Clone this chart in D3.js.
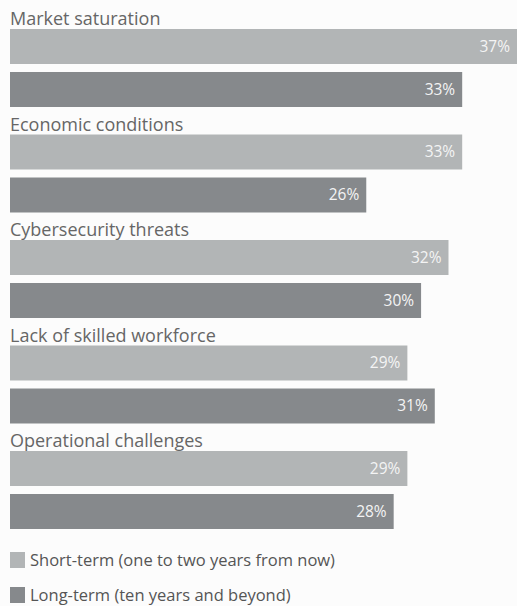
<!DOCTYPE html>
<html><head><meta charset="utf-8">
<script src="https://cdn.jsdelivr.net/npm/d3@7"></script>
<style>
html,body{margin:0;padding:0;background:#fcfcfc;}
svg{display:block;font-family:"Open Sans",sans-serif;}
</style></head>
<body>
<svg id="chart" width="517" height="606"></svg>
<script>
const categories = ["Market saturation","Economic conditions","Cybersecurity threats","Lack of skilled workforce","Operational challenges"];
const shortTerm = [37,33,32,29,29];
const longTerm = [33,26,30,31,28];
const seriesNames = ["Short-term (one to two years from now)","Long-term (ten years and beyond)"];
const colors = ["#b2b5b6","#86898c"];

const svg = d3.select("#chart");
const x = d3.scaleLinear().domain([0,37]).range([10,517]);
const groupY = d3.scaleBand().domain(categories).range([8,535.5]).paddingInner(0).paddingOuter(0);
const barH = 35;

const g = svg.selectAll("g.grp").data(categories).join("g").attr("class","grp")
  .attr("transform",d=>`translate(0,${groupY(d)})`);

g.append("text").attr("x",10).attr("y",17).attr("font-size",18).attr("fill","#666").text(d=>d);

const series = [shortTerm,longTerm];
series.forEach((vals,si)=>{
  const y0 = 21 + si*43;
  g.append("rect").attr("x",x(0)).attr("y",y0)
    .attr("width",(d,i)=>x(vals[i])-x(0)).attr("height",barH).attr("fill",colors[si]);
  g.append("text").attr("x",(d,i)=>x(vals[i])-7).attr("y",y0+barH/2).attr("dy","0.35em")
    .attr("text-anchor","end").attr("font-size",15.5).attr("fill","#f4f4f4").text((d,i)=>vals[i]+"%");
});

const leg = svg.selectAll("g.leg").data(seriesNames).join("g").attr("class","leg")
  .attr("transform",(d,i)=>`translate(10,${552+i*35})`);
leg.append("rect").attr("width",15).attr("height",16).attr("fill",(d,i)=>colors[i]);
leg.append("text").attr("x",20).attr("y",8).attr("dy","0.35em").attr("font-size",16.5).attr("fill","#555").text(d=>d);
</script>
</body></html>
